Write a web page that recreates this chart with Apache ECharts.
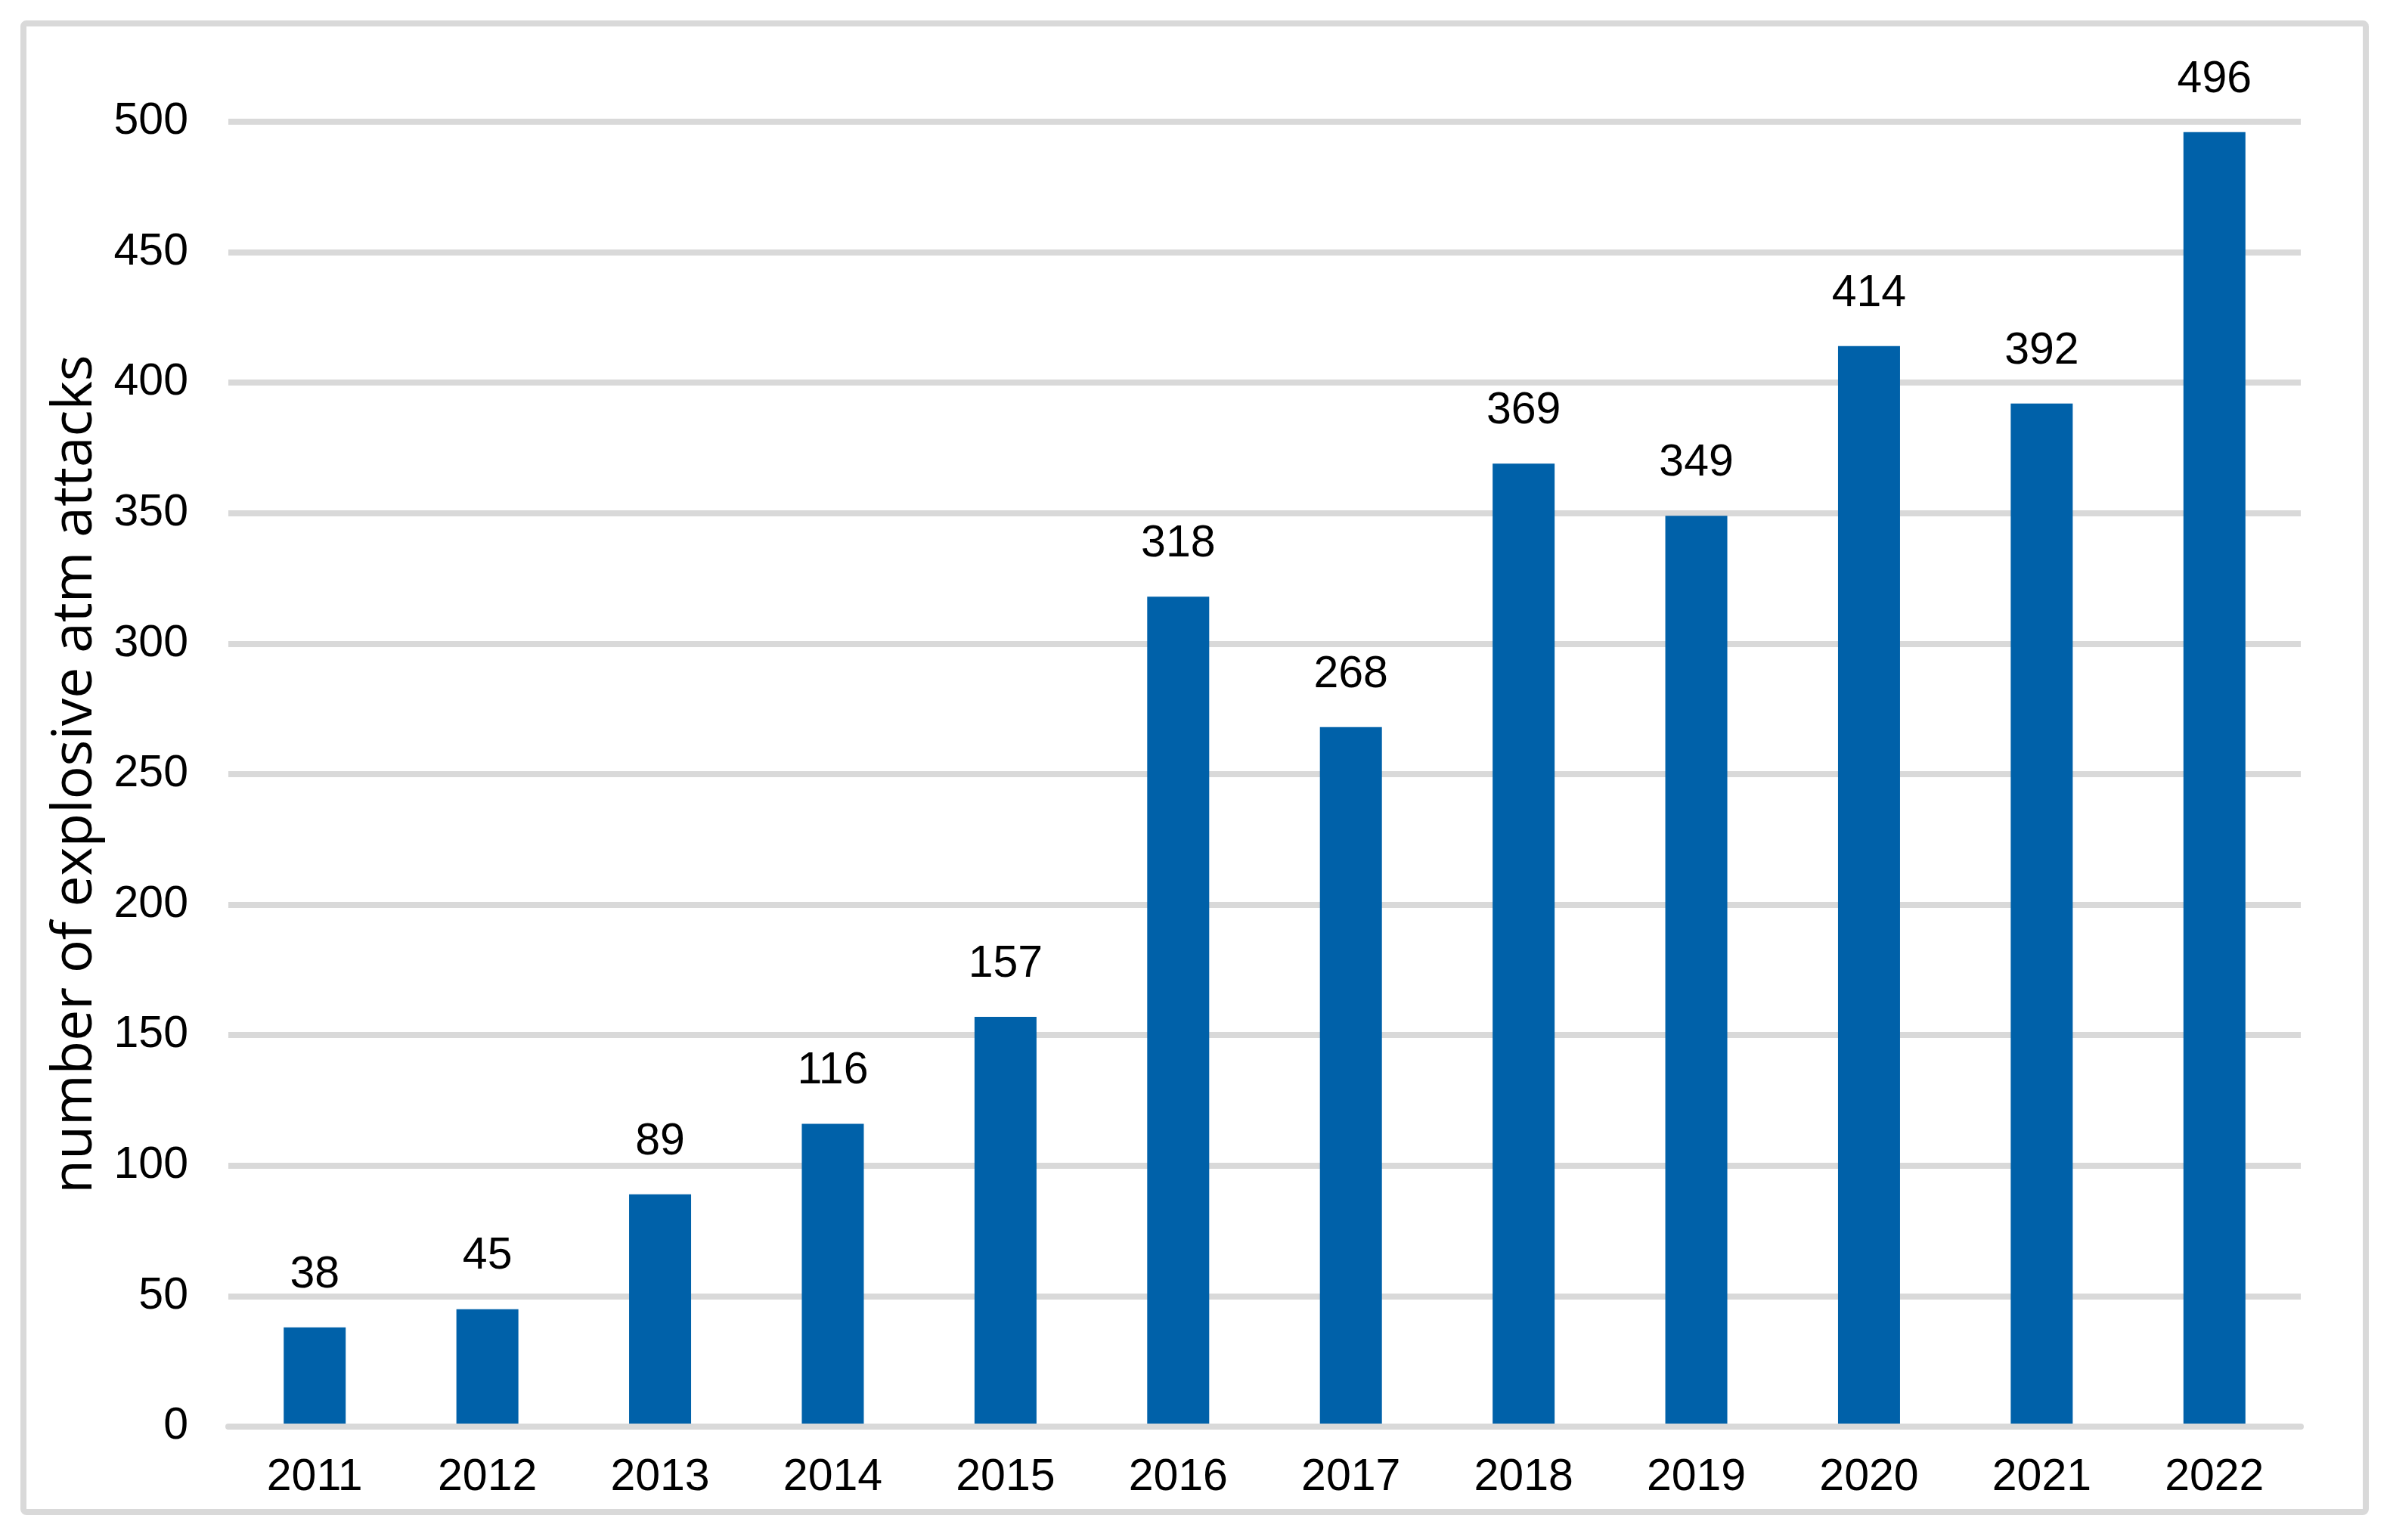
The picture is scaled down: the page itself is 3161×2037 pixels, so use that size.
<!DOCTYPE html>
<html>
<head>
<meta charset="utf-8">
<script src="https://cdn.jsdelivr.net/npm/echarts@6/dist/echarts.min.js"></script>
<style>
  html, body { margin: 0; padding: 0; background: #ffffff; }
  #chart { width: 3161px; height: 2037px; }
</style>
</head>
<body>
<div id="chart"></div>
<script>
const years = ['2011', '2012', '2013', '2014', '2015', '2016', '2017', '2018', '2019', '2020', '2021', '2022'];
const attacks = [38, 45, 89, 116, 157, 318, 268, 369, 349, 414, 392, 496];
const yAxisTitle = 'number of explosive atm attacks';
const yMin = 0, yMax = 500, yStep = 50;

const chart = echarts.init(document.getElementById('chart'), null, { renderer: 'canvas' });
const labelFont = "'Liberation Sans', Arial, sans-serif";

chart.setOption({
  backgroundColor: '#ffffff',
  animation: false,
  graphic: [{
    type: 'rect',
    silent: true,
    z: -10,
    shape: { x: 31, y: 31, width: 3098, height: 1969, r: 4 },
    style: { fill: 'none', stroke: '#d9d9d9', lineWidth: 8 }
  }],
  grid: { left: 302, right: 118, top: 161, bottom: 150, containLabel: false },
  xAxis: {
    type: 'category',
    data: years,
    z: 5,
    axisLine: { show: true, lineStyle: { color: '#d9d9d9', width: 8 } },
    axisTick: { show: false },
    axisLabel: { color: '#000000', fontSize: 59, fontFamily: labelFont, margin: 38 }
  },
  yAxis: {
    type: 'value',
    min: yMin, max: yMax, interval: yStep,
    name: yAxisTitle,
    nameLocation: 'middle',
    nameGap: 165,
    nameTextStyle: { color: '#000000', fontSize: 73, fontFamily: "'Open Sans', sans-serif" },
    axisLine: { show: false },
    axisTick: { show: false },
    axisLabel: { color: '#000000', fontSize: 59, fontFamily: labelFont, margin: 53 },
    splitLine: { show: true, lineStyle: { color: '#d9d9d9', width: 8 } }
  },
  series: [{
    type: 'bar',
    data: attacks,
    barWidth: 82,
    itemStyle: { color: '#0061a9' },
    label: {
      show: true,
      position: 'top',
      distance: 40,
      color: '#000000',
      fontSize: 59,
      fontFamily: labelFont
    }
  }]
});
</script>
</body>
</html>
